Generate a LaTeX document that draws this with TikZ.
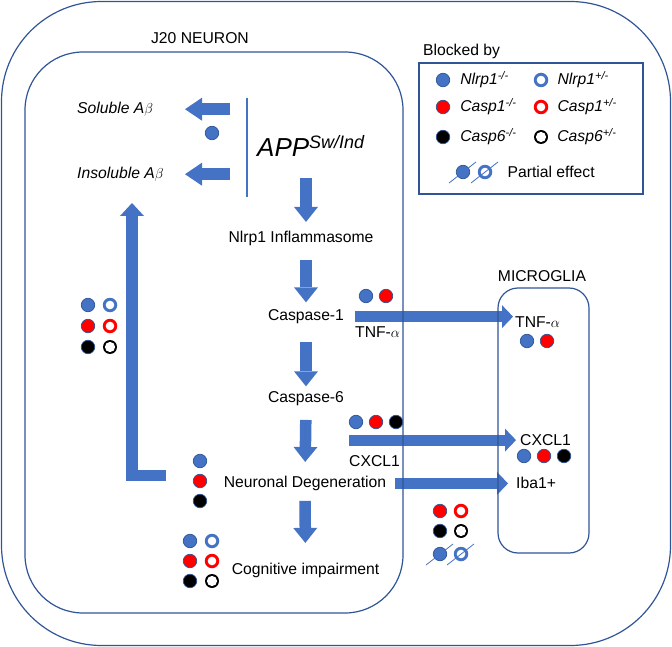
\documentclass[tikz,border=0pt]{standalone}
\usepackage{fontspec}
\setmainfont{Liberation Sans}
\usetikzlibrary{arrows.meta}
\usetikzlibrary{positioning}
\definecolor{appblue}{HTML}{4472C4}
\definecolor{boxblue}{HTML}{2F5597}
\tikzstyle{txt} = [inner sep=0pt, anchor=base west]
\tikzstyle{box} = [draw=boxblue, line width=1.2pt]
\tikzstyle{fatarrow} = [draw=appblue, line width=11.5pt, -{Triangle[width=24pt,length=15pt,line width=0pt]}]
\tikzstyle{longarrow} = [fatarrow, line width=11pt, -{Triangle[width=23pt,length=11pt,line width=0pt]}]
\tikzstyle{sidearrow} = [fatarrow, -{Triangle[width=23pt,length=17pt,line width=0pt]}]
\tikzstyle{dot} = [circle, inner sep=0pt, minimum size=13.5pt, draw=boxblue, line width=0.7pt]
\tikzstyle{dotb} = [dot, fill=appblue]
\tikzstyle{dotr} = [dot, fill=red]
\tikzstyle{dotk} = [dot, fill=black]
\tikzstyle{ring} = [circle, inner sep=0pt, minimum size=14.5pt, path picture={\fill[white] (path picture bounding box.center) circle (4.3pt);}]
\tikzstyle{ringb} = [ring, fill=appblue]
\tikzstyle{ringr} = [ring, fill=red]
\tikzstyle{ringk} = [ring, fill=black, minimum size=14pt, path picture={\fill[white] (path picture bounding box.center) circle (5.1pt);}]
\tikzstyle{slash} = [draw=appblue, line width=0.8pt]

\begin{document}
\begin{tikzpicture}[x=1pt, y=-1pt, font=\fontsize{15.7}{18}\selectfont]
\useasboundingbox (0,0) rectangle (672,647);

% labels
\node (j20) [txt, anchor=base] at (200,43.5) {J20 NEURON};
\node (blk) [txt] at (423,55.5) {Blocked by};
\node (mic) [txt, anchor=base] at (542,281.5) {MICROGLIA};
\node (app) [txt] at (257,157) {\fontsize{26}{30}\selectfont\itshape APP\raisebox{8pt}{\fontsize{18}{20}\selectfont Sw/Ind}};
\node (sol) [txt] at (77,113.5) {\textit{Soluble A}$\beta$};
\node (insol) [txt] at (77,178.5) {\textit{Insoluble A}$\beta$};
\node (nlrp) [txt, anchor=base] at (301,242.5) {Nlrp1 Inflammasome};
\node (casp1) [txt, anchor=base] at (306,320.5) {Caspase-1};
\node (casp6) [txt, anchor=base] at (306,402.5) {Caspase-6};
\node (neurodeg) [txt, anchor=base] at (305,487.5) {Neuronal Degeneration};
\node (cogn) [txt, anchor=base] at (305.5,574.5) {Cognitive impairment};
\node (tnfl) [txt] at (355,337.5) {TNF-$\alpha$};
\node (tnfm) [txt] at (515,327.5) {TNF-$\alpha$};
\node (cxcl) [txt] at (349,466.5) {CXCL1};
\node (cxclm) [txt] at (520,445.5) {CXCL1};
\node (iba) [txt] at (516,488.5) {Iba1+};

\coordinate (bartop) at (247,98);
\coordinate (barbot) at (247,197);
\coordinate (fbtip) at (132,203);

% pathway arrows
\draw[fatarrow, shorten <=21pt, shorten >=9pt] (app.south -| casp1.north) -- (nlrp.north -| casp1.north);
\draw[fatarrow, shorten <=14pt, shorten >=7pt] (nlrp.south -| casp1.north) -- (casp1.north);
\draw[fatarrow, shorten <=18pt, shorten >=5pt] (casp1.south) -- (casp6.north);
\draw[fatarrow, shorten <=14pt, shorten >=14pt] (casp6.south) -- (neurodeg.north);
\draw[fatarrow, shorten <=10pt, shorten >=20pt] (neurodeg.south) -- (cogn.north);
\draw[sidearrow, shorten <=17pt] (sol.east -| bartop) -- ++(-62,0);
\draw[sidearrow, shorten <=17pt] (insol.east -| bartop) -- ++(-62,0);
\draw[fatarrow, -{Triangle[width=24pt,length=13pt,line width=0pt]}] ([xshift=-58pt,yshift=8pt]neurodeg.west) -| (fbtip);
\draw[longarrow, shorten <=11pt, shorten >=2pt] (casp1.east) -- (casp1.east -| tnfm.west);
\draw[longarrow, shorten >=4pt] (cxclm.west -| cxcl.west) -- (cxclm.west);
\draw[longarrow, shorten <=9pt, shorten >=8pt] (neurodeg.east) -- (neurodeg.east -| iba.west);
\draw[appblue, line width=1.5pt] (bartop) -- (barbot);

% compartments
\draw[box, rounded corners=100pt] (1.5,1.5) rectangle (670.5,645.5);
\draw[box, rounded corners=58pt] (25,52) rectangle (403,613);
\draw[box, rounded corners=20pt] (498,288) rectangle (589,553);
\draw[box] (419,63) rectangle (643,194);

% legend
\node (lg1) [dotb] at (443,80) {};
\node (lg1t) [txt, anchor=west, right=10pt of lg1] {\textit{Nlrp1\textsuperscript{-/-}}};
\node (lg2) [dotr] at (443,107) {};
\node (lg2t) [txt, anchor=west, right=10pt of lg2] {\textit{Casp1\textsuperscript{-/-}}};
\node (lg3) [dotk] at (443,137) {};
\node (lg3t) [txt, anchor=west, right=10pt of lg3] {\textit{Casp6\textsuperscript{-/-}}};
\node (lg4) [ringb] at (541,80) {};
\node (lg4t) [txt, anchor=west, right=9pt of lg4] {\textit{Nlrp1\textsuperscript{+/-}}};
\node (lg5) [ringr] at (541,107) {};
\node (lg5t) [txt, anchor=west, right=9pt of lg5] {\textit{Casp1\textsuperscript{+/-}}};
\node (lg6) [ringk] at (541,137) {};
\node (lg6t) [txt, anchor=west, right=9pt of lg6] {\textit{Casp6\textsuperscript{+/-}}};
\node (lgp1) [dotb] at (463,172) {};
\node (lgp2) [ringb] at (485,172) {};
\draw[slash] (lgp1) ++(-14,11) -- ++(27,-21);
\draw[slash] (lgp2) ++(-14,11) -- ++(27,-21);
\node (lgpt) [txt, anchor=west, right=15pt of lgp2] {Partial effect};

% blocked-by marks
\node (d0) [dotb] at (212,133) {};

\node (fb1) [dotb] at (88,305) {};
\node (fb2) [ringb] at (110,305) {};
\node (fb3) [dotr] at (88,326) {};
\node (fb4) [ringr] at (110,326) {};
\node (fb5) [dotk] at (88,347) {};
\node (fb6) [ringk] at (110,347) {};

\node (c1a) [dotb] at (366,296) {};
\node (c1b) [dotr] at (386,296) {};
\node (tma) [dotb] at (527,341) {};
\node (tmb) [dotr] at (547,341) {};

\node (c6a) [dotb] at (356,422) {};
\node (c6b) [dotr] at (376,422) {};
\node (c6c) [dotk] at (396,422) {};
\node (cma) [dotb] at (524,456) {};
\node (cmb) [dotr] at (544,456) {};
\node (cmc) [dotk] at (564,456) {};

\node (nda) [dotb] at (200,461) {};
\node (ndb) [dotr] at (200,481) {};
\node (ndc) [dotk] at (200,501) {};

\node (cg1) [dotb] at (190,541) {};
\node (cg2) [ringb] at (212,541) {};
\node (cg3) [dotr] at (190,561) {};
\node (cg4) [ringr] at (212,561) {};
\node (cg5) [dotk] at (190,581) {};
\node (cg6) [ringk] at (212,581) {};

\node (ib1) [dotr] at (440,511) {};
\node (ib2) [ringr] at (461,511) {};
\node (ib3) [dotk] at (440,531) {};
\node (ib4) [ringk] at (461,531) {};
\node (ib5) [dotb] at (440,554) {};
\node (ib6) [ringb] at (461,554) {};
\draw[slash] (ib5) ++(-14,11) -- ++(27,-21);
\draw[slash] (ib6) ++(-14,11) -- ++(27,-21);
\end{tikzpicture}
\end{document}
